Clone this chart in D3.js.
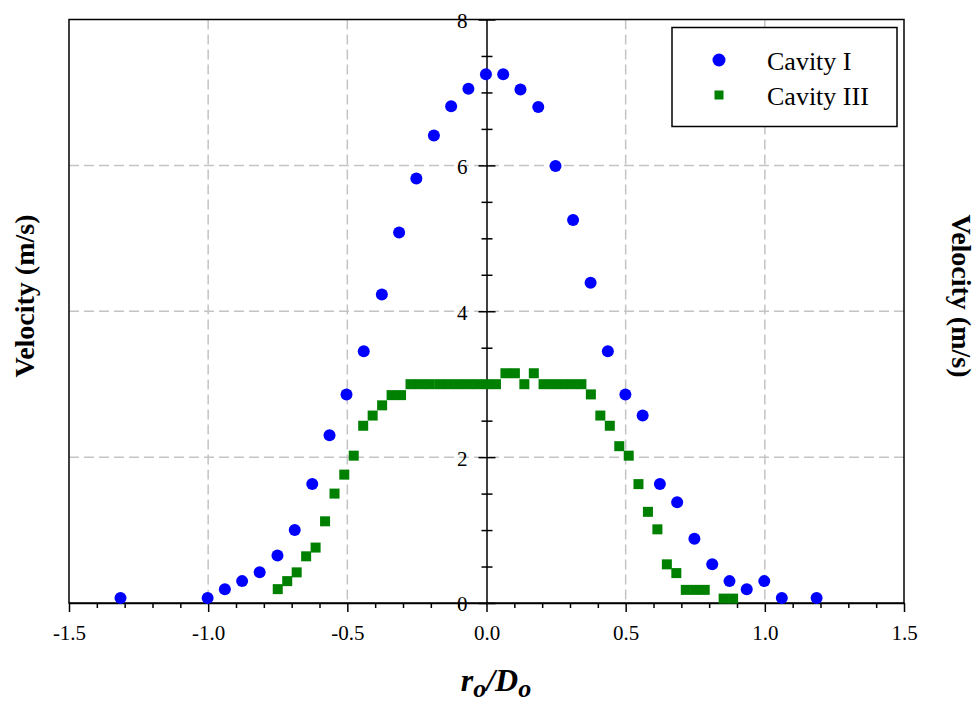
<!DOCTYPE html>
<html>
<head>
<meta charset="utf-8">
<script src="https://cdn.jsdelivr.net/npm/d3@7"></script>
<style>
  html, body { margin: 0; padding: 0; background: #fff; }
  svg { display: block; }
  svg text { font-family: "Liberation Serif", "Times New Roman", serif !important; fill: #000; }
</style>
</head>
<body>
<div id="chart"></div>
<script>
// Velocity profiles across the orifice, r_o / D_o
const cavity1X = [-1.315, -1.002, -0.940, -0.878, -0.815, -0.751, -0.689, -0.626, -0.564, -0.503,
                  -0.441, -0.376, -0.314, -0.252, -0.189, -0.127, -0.065, -0.002, 0.060, 0.122,
                  0.186, 0.248, 0.311, 0.374, 0.436, 0.499, 0.561, 0.623, 0.685, 0.747,
                  0.811, 0.873, 0.935, 0.998, 1.061, 1.186];
const cavity1Y = [0.07, 0.07, 0.19, 0.30, 0.42, 0.65, 1.00, 1.63, 2.30, 2.86,
                  3.45, 4.23, 5.08, 5.82, 6.41, 6.81, 7.05, 7.25, 7.25, 7.04,
                  6.80, 5.99, 5.25, 4.39, 3.45, 2.86, 2.57, 1.63, 1.38, 0.88,
                  0.53, 0.30, 0.19, 0.30, 0.07, 0.07];

const cavity3X = [-0.750, -0.716, -0.682, -0.648, -0.614, -0.580, -0.546, -0.511, -0.477, -0.443,
                  -0.409, -0.375, -0.341, -0.307, -0.273, -0.239, -0.205, -0.170, -0.136, -0.102,
                  -0.068, -0.034, 0.000, 0.034, 0.068, 0.102, 0.136, 0.170, 0.205, 0.239,
                  0.273, 0.307, 0.341, 0.375, 0.409, 0.443, 0.477, 0.511, 0.546, 0.580,
                  0.614, 0.648, 0.682, 0.716, 0.750, 0.784, 0.852, 0.886];
const cavity3Y = [0.19, 0.30, 0.42, 0.64, 0.76, 1.12, 1.50, 1.76, 2.02, 2.43,
                  2.57, 2.71, 2.85, 2.85, 3.00, 3.00, 3.00, 3.00, 3.00, 3.00,
                  3.00, 3.00, 3.00, 3.00, 3.15, 3.15, 3.00, 3.15, 3.00, 3.00,
                  3.00, 3.00, 3.00, 2.86, 2.57, 2.43, 2.15, 2.02, 1.63, 1.25,
                  1.01, 0.53, 0.41, 0.18, 0.18, 0.18, 0.06, 0.06];

const seriesNames = ["Cavity I", "Cavity III"];
const xTicks = [-1.5, -1.0, -0.5, 0.0, 0.5, 1.0, 1.5];
const xTickLabels = ["-1.5", "-1.0", "-0.5", "0.0", "0.5", "1.0", "1.5"];
const yTicks = [0, 2, 4, 6, 8];
const yTickLabels = ["0", "2", "4", "6", "8"];
const xGrid = [-1.0, -0.5, 0.5, 1.0];
const yGrid = [2, 4, 6];

const W = 979, H = 706;
const serif = "'Liberation Serif', 'Times New Roman', serif";
const svg = d3.select("#chart").append("svg").attr("width", W).attr("height", H);

const x = d3.scaleLinear().domain([-1.5, 1.5]).range([69, 904]);
const y = d3.scaleLinear().domain([0, 8]).range([603, 19.5]);

// dashed grid
const grid = svg.append("g").attr("stroke", "#c4c4c4").attr("stroke-width", 1.5)
  .attr("stroke-dasharray", "10,5").attr("fill", "none");
grid.selectAll(".gx").data(xGrid).join("line")
  .attr("x1", d => x(d)).attr("x2", d => x(d)).attr("y1", y(8)).attr("y2", y(0));
grid.selectAll(".gy").data(yGrid).join("line")
  .attr("x1", x(-1.5)).attr("x2", x(1.5)).attr("y1", d => y(d)).attr("y2", d => y(d));

// frame
svg.append("rect")
  .attr("x", x(-1.5)).attr("y", y(8))
  .attr("width", x(1.5) - x(-1.5)).attr("height", y(0) - y(8))
  .attr("fill", "none").attr("stroke", "#000").attr("stroke-width", 1.5);

// x axis: major + minor ticks
const xMinor = d3.ticks(-1.5, 1.5, 30).filter(v => Math.abs(v * 2 - Math.round(v * 2)) > 1e-6);
const gxMinor = svg.append("g").attr("transform", `translate(0,${y(0)})`)
  .call(d3.axisBottom(x).tickValues(xMinor).tickSize(5).tickFormat(""));
gxMinor.select(".domain").remove();
const gxAxis = svg.append("g").attr("transform", `translate(0,${y(0)})`)
  .call(d3.axisBottom(x).tickValues(xTicks).tickSize(9).tickSizeOuter(0).tickPadding(10)
    .tickFormat((d, i) => xTickLabels[i]));
gxAxis.attr("font-family", serif).attr("font-size", 21);
gxAxis.selectAll("line").attr("stroke-width", 1.5);
gxMinor.selectAll("line").attr("stroke-width", 1.5);
gxAxis.select(".domain").attr("stroke-width", 1.5);
gxAxis.selectAll("text").style("font-family", serif).style("font-size", "21px").attr("dy", "0.85em");

// y axis drawn through r/D = 0
const yMinor = d3.range(0.5, 8, 0.5).filter(v => v % 2 !== 0);
const gyMinor = svg.append("g").attr("transform", `translate(${x(0)},0)`)
  .call(d3.axisLeft(y).tickValues(yMinor).tickSize(5).tickFormat(""));
gyMinor.select(".domain").remove();
gyMinor.selectAll("line").attr("x1", 6).attr("stroke-width", 1.5);
const gyAxis = svg.append("g").attr("transform", `translate(${x(0)},0)`)
  .call(d3.axisLeft(y).tickValues(yTicks).tickSize(8).tickSizeOuter(0).tickPadding(11)
    .tickFormat((d, i) => yTickLabels[i]));
gyAxis.attr("font-family", serif).attr("font-size", 21);
gyAxis.selectAll("line").attr("x1", 9).attr("stroke-width", 1.5);
gyAxis.select(".domain").attr("stroke-width", 1.5);
gyAxis.selectAll("text").style("font-family", serif).style("font-size", "21px").attr("dy", "0.38em");

// data
const d1 = cavity1X.map((v, i) => ({ x: v, y: cavity1Y[i] }));
const d3pts = cavity3X.map((v, i) => ({ x: v, y: cavity3Y[i] }));
const sq = 10;
svg.append("g").selectAll("rect").data(d3pts).join("rect")
  .attr("x", d => x(d.x) - sq / 2).attr("y", d => y(d.y) - sq / 2)
  .attr("width", sq).attr("height", sq).attr("fill", "#008000");
svg.append("g").selectAll("circle").data(d1).join("circle")
  .attr("cx", d => x(d.x)).attr("cy", d => y(d.y)).attr("r", 6).attr("fill", "#0000ff");

// legend
const lg = svg.append("g");
lg.append("rect").attr("x", 672).attr("y", 27.5).attr("width", 225).attr("height", 99)
  .attr("fill", "#fff").attr("stroke", "#000").attr("stroke-width", 1.5);
lg.append("circle").attr("cx", 719).attr("cy", 60).attr("r", 6.5).attr("fill", "#0000ff");
lg.append("rect").attr("x", 719 - 4.5).attr("y", 95 - 4.5).attr("width", 9).attr("height", 9).attr("fill", "#008000");
lg.append("text").attr("x", 767).attr("y", 70).attr("font-size", 26).text(seriesNames[0]);
lg.append("text").attr("x", 767).attr("y", 105).attr("font-size", 26).text(seriesNames[1]);

// axis titles
const xt = svg.append("text").attr("x", 496).attr("y", 691).attr("text-anchor", "middle")
  .attr("font-size", 32).attr("font-weight", "bold").attr("font-style", "italic");
xt.append("tspan").text("r");
xt.append("tspan").attr("font-size", 26).attr("dy", 6).text("o");
xt.append("tspan").attr("dy", -6).text("/D");
xt.append("tspan").attr("font-size", 26).attr("dy", 6).text("o");

svg.append("text").attr("transform", "translate(34,296) rotate(-90)")
  .attr("text-anchor", "middle").attr("font-size", 28).attr("font-weight", "bold")
  .text("Velocity (m/s)");
svg.append("text").attr("transform", "translate(952,296) rotate(90)")
  .attr("text-anchor", "middle").attr("font-size", 28).attr("font-weight", "bold")
  .text("Velocity (m/s)");
</script>
</body>
</html>
